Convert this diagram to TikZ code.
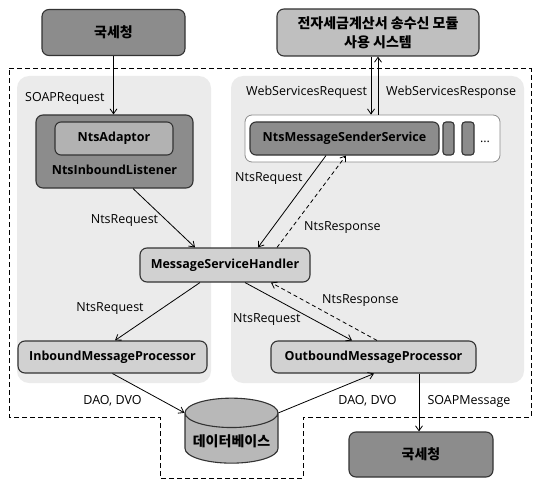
\documentclass[tikz,border=0pt]{standalone}
\usepackage{fontspec}
\setmainfont{Open Sans}
\newfontfamily\krfont{Noto Sans CJK KR}
\usepackage{tikz}
\usetikzlibrary{arrows.meta,positioning,calc,shapes.geometric}

\begin{document}
\begin{tikzpicture}[x=1pt, y=-1pt,
    box/.style={draw=black!80, line width=1.1pt, rounded corners=7pt, inner sep=0pt, font=\fontsize{12.5}{14}\selectfont\bfseries},
    darkbox/.style={box, fill=black!45},
    lightbox/.style={box, fill=black!18},
    panel/.style={fill=black!8, rounded corners=12pt},
    lbl/.style={font=\fontsize{12.5}{14}\selectfont, inner sep=0pt},
    arr/.style={line width=0.8pt, -{Straight Barb[length=5pt,width=7pt]}},
    dasharr/.style={arr, dash pattern=on 4pt off 3pt}]
    \useasboundingbox (0,0) rectangle (534,481);

    % Panels
    \fill[panel] (17,76) rectangle (211,383);
    \fill[panel] (231,76) rectangle (524,383);

    % System boundary
    \draw[line width=1pt, dash pattern=on 5pt off 3pt]
        (9,69) -- (531,69) -- (531,417) -- (303,417) -- (303,478)
        -- (160,478) -- (160,417) -- (9,417) -- cycle;

    % External systems
    \node[darkbox, minimum width=143, minimum height=46, font=\krfont\fontsize{14}{16}\selectfont\bfseries] (ntstop) at (113.5,32.5) {국세청};
    \node[box, fill=black!25, minimum width=202, minimum height=47, align=center, font=\krfont\fontsize{14}{19}\selectfont\bfseries] (sys) at (378,32.5) {전자세금계산서 송수신 모듈\\사용 시스템};
    \node[darkbox, minimum width=144, minimum height=45, font=\krfont\fontsize{14}{16}\selectfont\bfseries] (ntsbot) at (421,454.5) {국세청};

    % Inbound side
    \node[darkbox, minimum width=157, minimum height=73] (listener) at (114.5,151.5) {};
    \node[box, fill=black!30, minimum width=118, minimum height=33, rounded corners=6pt] (adaptor) at (114,138.5) {NtsAdaptor};
    \node[font=\fontsize{12.5}{14}\selectfont\bfseries, inner sep=0pt] (listenertxt) at (114.5,170) {NtsInboundListener};

    % Sender side
    \node[draw=black!45, fill=white, line width=0.8pt, rounded corners=7pt, minimum width=255, minimum height=47] (sendbox) at (372.5,138.5) {};
    \node[darkbox, minimum width=189, minimum height=33, rounded corners=6pt] (sender) at (344.5,138.5) {NtsMessageSenderService};
    \node[darkbox, minimum width=11, minimum height=33, rounded corners=3pt] (slot1) at (448.5,138.5) {};
    \node[darkbox, minimum width=12, minimum height=33, rounded corners=3pt] (slot2) at (468,138.5) {};
    \node[lbl] (dots) at (485,142) {...};

    % Handler and processors
    \node[lightbox, minimum width=170, minimum height=34] (handler) at (225,265) {MessageServiceHandler};
    \node[lightbox, minimum width=189, minimum height=32] (inproc) at (112.5,357) {InboundMessageProcessor};
    \node[lightbox, minimum width=205, minimum height=32] (outproc) at (373.5,357) {OutboundMessageProcessor};

    % Database
    \node[cylinder, shape border rotate=90, aspect=0.35, draw=black!80, line width=1.1pt, fill=black!28,
          minimum width=93, minimum height=65, font=\krfont\fontsize{14}{16}\selectfont\bfseries] (db) at (231.5,441) {데이터베이스};

    % Connectors
    \draw[arr] (ntstop.south) -- (ntstop.south |- listener.north);
    \draw[arr] ([xshift=-7]sys.south) -- ([xshift=-7]sys.south |- sendbox.north);
    \draw[arr] (sys.south |- sendbox.north) -- (sys.south);
    \draw[arr] ([xshift=18.5]listener.south) -- ([xshift=-30]handler.north);
    \draw[arr] ([xshift=-18.5]sender.south) -- ([xshift=33]handler.north);
    \draw[dasharr] ([xshift=52]handler.north) -- ([xshift=1.5]sender.south);
    \draw[arr] ([xshift=-25]handler.south) -- ([xshift=2.5]inproc.north);
    \draw[arr] ([xshift=20]handler.south) -- ([xshift=-21.5]outproc.north);
    \draw[dasharr] ([xshift=3.5]outproc.north) -- ([xshift=46]handler.south);
    \draw[arr] (inproc.south) -- (db.before top);
    \draw[arr, {Straight Barb[length=5pt,width=7pt]}-] ([xshift=0.5]outproc.south) -- (db.after top);
    \draw[arr] ([xshift=45.5]outproc.south) -- ([xshift=-2]ntsbot.north);

    % Labels
    \node[lbl, anchor=west] (soapreq) at (25,98) {SOAPRequest};
    \node[lbl] (reqa) at (124.5,221) {NtsRequest};
    \node[lbl, anchor=west] (wsreq) at (246,92) {WebServicesRequest};
    \node[lbl, anchor=west] (wsres) at (386,92) {WebServicesResponse};
    \node[lbl, anchor=west] (reqb) at (235,179) {NtsRequest};
    \node[lbl, anchor=west] (resa) at (304,228) {NtsResponse};
    \node[lbl] (reqc) at (110,309) {NtsRequest};
    \node[lbl, anchor=west] (reqd) at (233,320) {NtsRequest};
    \node[lbl, anchor=west] (resb) at (322,301) {NtsResponse};
    \node[lbl] (daoa) at (112.5,401) {DAO, DVO};
    \node[lbl] (daob) at (367.5,401) {DAO, DVO};
    \node[lbl] (soapmsg) at (469,401) {SOAPMessage};
\end{tikzpicture}
\end{document}
